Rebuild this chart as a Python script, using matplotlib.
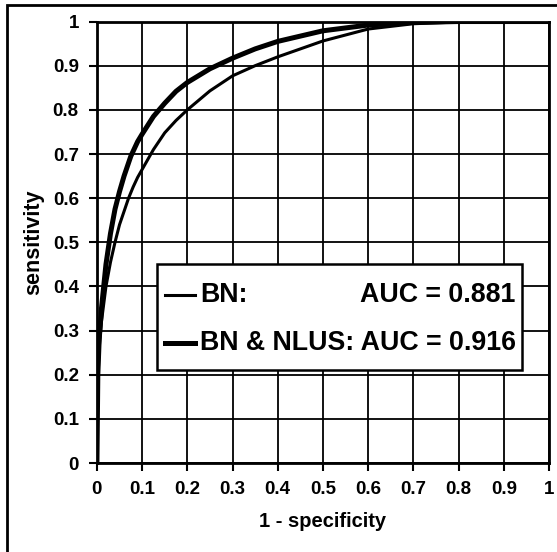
import numpy as np
import matplotlib.pyplot as plt
from matplotlib.patches import Rectangle

plt.rcParams['font.family'] = ['Liberation Sans', 'DejaVu Sans']
plt.rcParams['font.weight'] = 'bold'

# ROC points
fpr_bn = [0, 0.002, 0.005, 0.01, 0.02, 0.03, 0.04, 0.05, 0.06, 0.07, 0.08, 0.09, 0.1, 0.125,
          0.15, 0.175, 0.2, 0.25, 0.3, 0.35, 0.4, 0.5, 0.6, 0.7, 0.8, 0.9, 1.0]
tpr_bn = [0, 0.18, 0.26, 0.32, 0.40, 0.455, 0.50, 0.54, 0.57, 0.60, 0.625, 0.647, 0.665, 0.71,
          0.748, 0.776, 0.80, 0.843, 0.877, 0.9, 0.92, 0.956, 0.983, 0.995, 0.999, 1.0, 1.0]

fpr_nlus = [0, 0.002, 0.005, 0.01, 0.02, 0.03, 0.04, 0.05, 0.06, 0.075, 0.09, 0.1, 0.125,
            0.15, 0.175, 0.2, 0.25, 0.3, 0.35, 0.4, 0.5, 0.6, 0.7, 0.8, 0.9, 1.0]
tpr_nlus = [0, 0.2, 0.28, 0.35, 0.45, 0.52, 0.575, 0.615, 0.65, 0.695, 0.728, 0.745, 0.785,
            0.815, 0.842, 0.862, 0.893, 0.917, 0.938, 0.955, 0.979, 0.992, 0.998, 1.0, 1.0, 1.0]

labels = ['BN:', 'BN & NLUS:']
aucs = ['AUC = 0.881', 'AUC = 0.916']
widths = [2.2, 3.6]

fig = plt.figure(figsize=(5.57, 5.52), dpi=100)
ax = fig.add_axes([0.174, 0.161, 0.8116, 0.8])

ax.plot(fpr_bn, tpr_bn, color='black', lw=widths[0], zorder=3)
ax.plot(fpr_nlus, tpr_nlus, color='black', lw=widths[1], zorder=3)

ticks = np.round(np.arange(0, 1.01, 0.1), 1)
ticklabels = ['0' if t == 0 else ('1' if t == 1 else f'{t:g}') for t in ticks]
ax.set_xlim(0, 1)
ax.set_ylim(0, 1)
ax.set_xticks(ticks)
ax.set_yticks(ticks)
ax.set_xticklabels(ticklabels)
ax.set_yticklabels(ticklabels)
ax.tick_params(labelsize=13.5, length=6, width=1.5, direction='out', pad=7, colors='black')
ax.grid(True, color='black', lw=1.3)
for s in ax.spines.values():
    s.set_linewidth(2)
ax.set_xlabel('1 - specificity', fontsize=14.5, fontweight='bold', labelpad=10)
ax.set_ylabel('sensitivity', fontsize=15.5, fontweight='bold', labelpad=6)

# legend box
ax.add_patch(Rectangle((0.133, 0.211), 0.807, 0.24, transform=ax.transAxes,
                       facecolor='white', edgecolor='black', lw=1.8, zorder=5))
rows_y = [0.381, 0.272]
ax.plot([0.150, 0.217], [rows_y[0], rows_y[0]], color='black', lw=widths[0],
        transform=ax.transAxes, zorder=6, clip_on=False)
ax.plot([0.150, 0.217], [rows_y[1], rows_y[1]], color='black', lw=widths[1],
        transform=ax.transAxes, zorder=6, clip_on=False)
ax.text(0.228, rows_y[0], labels[0], transform=ax.transAxes, fontsize=19.3,
        fontweight='bold', va='center', ha='left', zorder=6)
ax.text(0.926, rows_y[0], aucs[0], transform=ax.transAxes, fontsize=19.3,
        fontweight='bold', va='center', ha='right', zorder=6)
ax.text(0.228, rows_y[1], labels[1] + ' ' + aucs[1], transform=ax.transAxes, fontsize=19.3,
        fontweight='bold', va='center', ha='left', zorder=6)

# outer frame of the figure
fig.patches.append(Rectangle((7 / 557, -0.05), 1.1, 1 - 5 / 552 + 0.05,
                             transform=fig.transFigure, fill=False,
                             edgecolor='black', lw=2))

fig.savefig('out.png', dpi=100)
